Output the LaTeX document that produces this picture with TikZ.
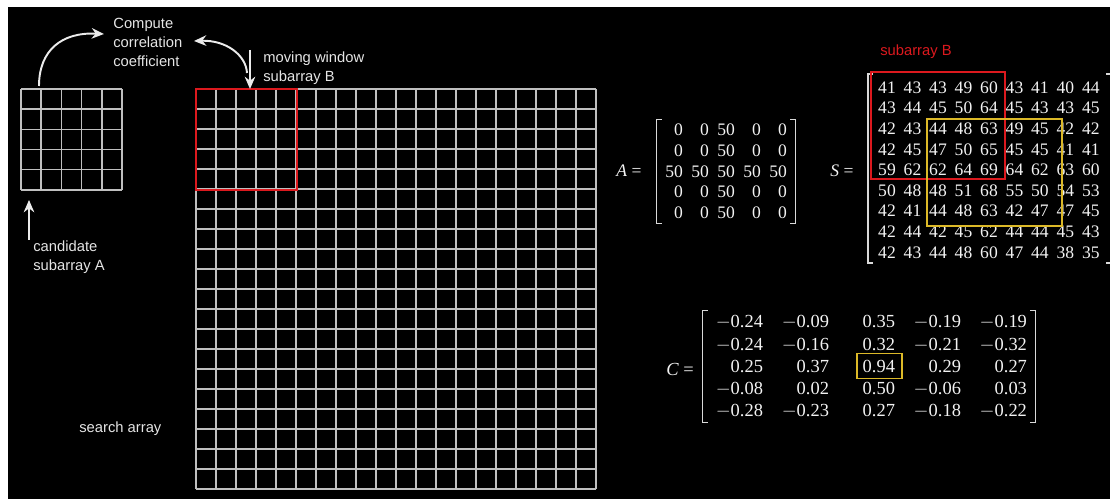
\documentclass[tikz,border=0pt]{standalone}
\usepackage{fontspec}
\setmainfont{Liberation Serif}
\setsansfont{Liberation Sans}
\usetikzlibrary{arrows.meta, matrix}
\definecolor{winred}{RGB}{220,25,30}
\definecolor{matchyellow}{RGB}{220,185,40}
\begin{document}
\begin{tikzpicture}[x=0.02cm, y=-0.02cm,
  gridline/.style={draw=white!75!black, line width=0.8pt},
  winbox/.style={draw=winred, line width=1.6pt},
  hitbox/.style={draw=matchyellow, line width=1.1pt},
  arr/.style={draw=white!92!black, line width=1.1pt, -{Stealth[length=7pt,width=6pt]}},
  lbl/.style={text=white!90!black, font=\sffamily\fontsize{8.4}{10.8}\selectfont, align=left, inner sep=0pt},
  brk/.style={draw=white!85!black, line width=0.8pt},
  num/.style={text=white!95!black, inner sep=0pt}]
\useasboundingbox (0,0) rectangle (1110,499);
\fill[white] (0,0) rectangle (1110,499);
\fill[black] (8,7) rectangle (1110,499);

% candidate and search grids
\foreach \i in {0,...,5} {
  \draw[gridline] (21+20.2*\i,89) -- (21+20.2*\i,190);
  \draw[gridline] (21,89+20.2*\i) -- (122,89+20.2*\i);
}
\foreach \i in {0,...,20} {
  \draw[gridline] (196+20*\i,89) -- (196+20*\i,489);
  \draw[gridline] (196,89+20*\i) -- (596,89+20*\i);
}
\draw[winbox] (196,89) rectangle (297,190);

\node[lbl, anchor=north west] (corr) at (113,18) {Compute\\correlation\\coefficient};
\node[lbl, anchor=north west] (movlbl) at (263,51) {moving window\\subarray B};
\node[lbl, anchor=north west] (candlbl) at (33,240) {candidate\\subarray A};
\node[lbl, anchor=north west] (searchlbl) at (79,421) {search array};

\coordinate (candtop) at (39,86);
\coordinate (corrin) at (104,34);
\coordinate (winjoin) at (247,73);
\coordinate (corrout) at (194,41);
\coordinate (movtop) at (250,50);
\coordinate (wintop) at (250,89);
\coordinate (candbot) at (29,240);
\coordinate (candarr) at (29,200);
\draw[arr] (candtop) .. controls (39,50) and (62,32) .. (corrin);
\draw[arr] (winjoin) .. controls (246,55) and (226,40) .. (corrout);
\draw[arr] (movtop) -- (wintop);
\draw[arr] (candbot) -- (candarr);

% matrices
\node[num, font=\fontsize{10}{12}\selectfont] (Aeq) at (629,171) {\textit{A} =};
\matrix (Amat) [matrix of nodes, inner sep=0pt, font=\fontsize{10}{12}\selectfont,
  nodes={num, text width=0.52cm, align=right, minimum height=0.415cm}] at (722,171.5) {
0 & 0 & 50 & 0 & 0 \\
0 & 0 & 50 & 0 & 0 \\
50 & 50 & 50 & 50 & 50 \\
0 & 0 & 50 & 0 & 0 \\
0 & 0 & 50 & 0 & 0 \\
};
\draw[brk] ([shift={(5,0)}]Amat.north west) -- (Amat.north west) -- (Amat.south west) -- ([shift={(5,0)}]Amat.south west);
\draw[brk] ([shift={(3,0)}]Amat.north east) -- ([shift={(8,0)}]Amat.north east) -- ([shift={(8,0)}]Amat.south east) -- ([shift={(3,0)}]Amat.south east);

\node[num, font=\fontsize{10}{12}\selectfont] (Seq) at (842,171) {\textit{S} =};
\matrix (Smat) [matrix of nodes, inner sep=0pt, font=\fontsize{10}{12}\selectfont,
  nodes={num, minimum width=0.51cm, minimum height=0.41cm}] at (989,170) {
41 & 43 & 43 & 49 & 60 & 43 & 41 & 40 & 44 \\
43 & 44 & 45 & 50 & 64 & 45 & 43 & 43 & 45 \\
42 & 43 & 44 & 48 & 63 & 49 & 45 & 42 & 42 \\
42 & 45 & 47 & 50 & 65 & 45 & 45 & 41 & 41 \\
59 & 62 & 62 & 64 & 69 & 64 & 62 & 63 & 60 \\
50 & 48 & 48 & 51 & 68 & 55 & 50 & 54 & 53 \\
42 & 41 & 44 & 48 & 63 & 42 & 47 & 47 & 45 \\
42 & 44 & 42 & 45 & 62 & 44 & 44 & 45 & 43 \\
42 & 43 & 44 & 48 & 60 & 47 & 44 & 38 & 35 \\
};
\draw[brk] ([shift={(-1,-3)}]Smat.north west) -- ([shift={(-6,-3)}]Smat.north west) -- ([shift={(-6,0)}]Smat.south west) -- ([shift={(-1,0)}]Smat.south west);
\draw[brk] ([shift={(2,-3)}]Smat.north east) -- ([shift={(7,-3)}]Smat.north east) -- ([shift={(7,0)}]Smat.south east) -- ([shift={(2,0)}]Smat.south east);
\draw[winbox, line width=1.2pt] ([shift={(-3,-5)}]Smat-1-1.north west) rectangle ([shift={(3,-2)}]Smat-5-5.south east);
\draw[hitbox] ([shift={(2,1)}]Smat-3-3.north west) rectangle ([shift={(9,4)}]Smat-7-7.south east);
\node[lbl, text=winred] (sublbl) at (916,52) {subarray B};

\node[num, font=\fontsize{10.5}{12}\selectfont] (Ceq) at (680,369) {\textit{C} =};
\matrix (Cmat) [matrix of nodes, inner sep=0pt, font=\fontsize{10.5}{12}\selectfont,
  nodes={num, text width=1.32cm, align=right, minimum height=0.435cm}] at (862,366.5) {
{$-$}0.24 & {$-$}0.09 & 0.35 & {$-$}0.19 & {$-$}0.19 \\
{$-$}0.24 & {$-$}0.16 & 0.32 & {$-$}0.21 & {$-$}0.32 \\
0.25 & 0.37 & 0.94 & 0.29 & 0.27 \\
{$-$}0.08 & 0.02 & 0.50 & {$-$}0.06 & 0.03 \\
{$-$}0.28 & {$-$}0.23 & 0.27 & {$-$}0.18 & {$-$}0.22 \\
};
\draw[brk] ([shift={(11,0)}]Cmat.north west) -- ([shift={(6,0)}]Cmat.north west) -- ([shift={(6,0)}]Cmat.south west) -- ([shift={(11,0)}]Cmat.south west);
\draw[brk] ([shift={(3,0)}]Cmat.north east) -- ([shift={(8,0)}]Cmat.north east) -- ([shift={(8,0)}]Cmat.south east) -- ([shift={(3,0)}]Cmat.south east);
\draw[hitbox] ([shift={(-38,-13)}]Cmat-3-3.east) rectangle ([shift={(7,12)}]Cmat-3-3.east);
\end{tikzpicture}
\end{document}
